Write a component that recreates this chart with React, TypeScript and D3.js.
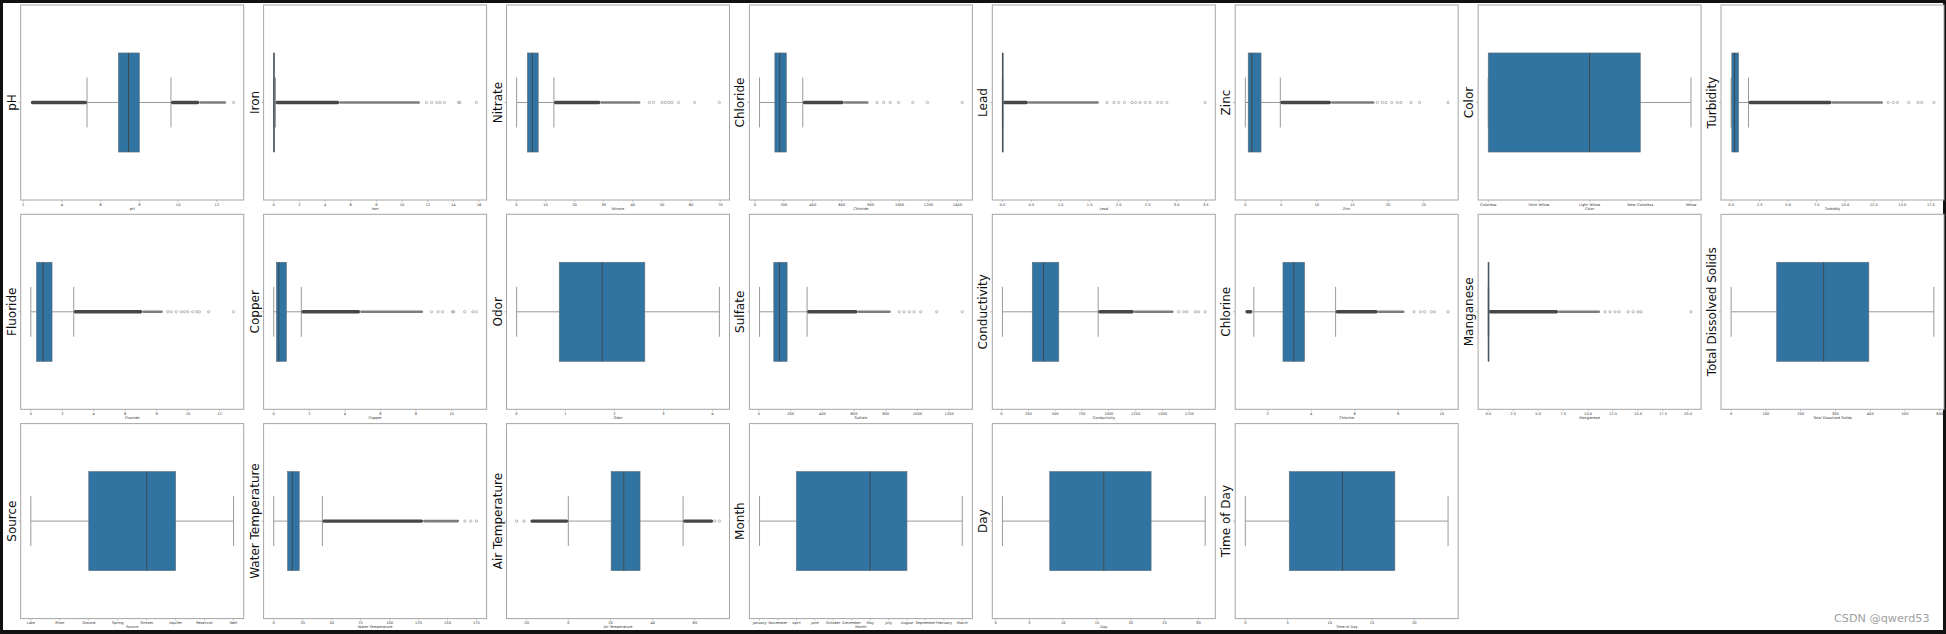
import React from 'react';
import * as d3 from 'd3';

// one horizontal box plot per column of the water quality table
const variables = [
  'pH', 'Iron', 'Nitrate', 'Chloride', 'Lead', 'Zinc', 'Color', 'Turbidity',
  'Fluoride', 'Copper', 'Odor', 'Sulfate', 'Conductivity', 'Chlorine', 'Manganese', 'Total Dissolved Solids',
  'Source', 'Water Temperature', 'Air Temperature', 'Month', 'Day', 'Time of Day',
];

const lowerWhisker = [5.3, 0, 0.1, 32, 0, 0, 0, 0, 0, 0, 0.006, 4, 9, 1.36, 0, 0, 0, 0, 0, 0, 1, 0];
const firstQuartile = [6.92, 0, 3.8, 138, 0, 0.4, 0, 0.06, 0.36, 0.15, 0.875, 94, 287, 2.7, 0, 131, 2, 12, 20.3, 2, 8, 5.2];
const medianValues = [7.44, 0.01, 5.5, 172, 0, 0.9, 2, 0.3, 0.78, 0.28, 1.75, 130, 392, 3.2, 0.002, 266, 4, 16, 26.3, 6, 16, 11.5];
const thirdQuartile = [8.0, 0.06, 7.5, 217, 0.003, 2.2, 3, 0.65, 1.35, 0.71, 2.62, 178, 534, 3.69, 0.02, 396, 5, 22, 34.0, 8, 23, 17.7];
const upperWhisker = [9.63, 0.14, 12.9, 331, 0.007, 4.9, 4, 1.52, 2.73, 1.55, 4.14, 304, 901, 5.12, 0.05, 583, 7, 42, 54.4, 11, 31, 24];

// stretches where the outlier markers pile up into a solid band
const lowFliers: ([number, number] | null)[] = [
  [2.4, 5.3], null, null, null, null, null, null, null,
  null, null, null, null, null, [0.97, 1.3], null, null,
  null, null, [-18, 0], null, null, null,
];
const denseFliers: ([number, number] | null)[] = [
  [9.63, 11.1], [0.14, 5.1], [12.9, 28.9], [331, 614], [0.007, 0.44], [4.9, 12.0], null, [1.52, 8.8],
  [2.73, 7.1], [1.55, 4.86], null, [304, 623], [901, 1234], [5.12, 7.06], [0.05, 7.0], null,
  null, [42, 129], [54.4, 68.7], null, null, null,
];
const faintFliers: ([number, number] | null)[] = [
  [11.1, 12.48], [5.1, 11.4], [28.9, 42.6], [614, 786], [0.44, 1.66], [12.0, 18.1], null, [8.8, 13.3],
  [7.1, 8.4], [4.86, 8.4], null, [623, 832], [1234, 1604], [7.06, 8.29], [7.0, 11.2], null,
  null, [129, 160], null, null, null, null,
];
const sparseFliers: number[][] = [
  [12.86],
  [11.9, 12.3, 12.7, 12.95, 13.3, 14.4, 14.5, 15.8],
  [45.7, 47.1, 50.0, 51.1, 52.3, 53.4, 55.7, 61.2, 69.7],
  [844, 890, 936, 993, 1092, 1193, 1434],
  [1.8, 1.92, 2.0, 2.1, 2.23, 2.29, 2.37, 2.46, 2.54, 2.67, 2.74, 2.83, 3.49],
  [18.5, 19.2, 19.7, 20.5, 21.3, 21.8, 23.2, 24.4, 28.4],
  [],
  [13.76, 14.2, 14.57, 15.56, 16.38, 16.7, 17.76],
  [8.72, 8.93, 9.25, 9.57, 9.78, 9.99, 10.3, 10.56, 10.73, 11.32, 12.9],
  [8.87, 9.24, 9.49, 10.05, 10.12, 10.74, 11.2, 11.4],
  [],
  [885, 916, 948, 979, 1021, 1122, 1283],
  [1651, 1697, 1728, 1806, 1836, 1898],
  [8.72, 9.03, 9.21, 9.52, 9.67, 10.29],
  [11.7, 12.2, 12.7, 13.1, 14.0, 14.5, 15.0, 15.3, 20.3],
  [],
  [],
  [165, 170, 175],
  [-24.5, -21, 69.5, 71.6],
  [],
  [],
  [],
];

const tickValues: number[][] = [
  [2, 4, 6, 8, 10, 12],
  [0, 2, 4, 6, 8, 10, 12, 14, 16],
  [0, 10, 20, 30, 40, 50, 60, 70],
  [0, 200, 400, 600, 800, 1000, 1200, 1400],
  [0, 0.5, 1, 1.5, 2, 2.5, 3, 3.5],
  [0, 5, 10, 15, 20, 25],
  [0, 1, 2, 3, 4],
  [0, 2.5, 5, 7.5, 10, 12.5, 15, 17.5],
  [0, 2, 4, 6, 8, 10, 12],
  [0, 2, 4, 6, 8, 10],
  [0, 1, 2, 3, 4],
  [0, 200, 400, 600, 800, 1000, 1200],
  [0, 250, 500, 750, 1000, 1250, 1500, 1750],
  [2, 4, 6, 8, 10],
  [0, 2.5, 5, 7.5, 10, 12.5, 15, 17.5, 20],
  [0, 100, 200, 300, 400, 500, 600],
  [0, 1, 2, 3, 4, 5, 6, 7],
  [0, 25, 50, 75, 100, 125, 150, 175],
  [-20, 0, 20, 40, 60],
  [0, 1, 2, 3, 4, 5, 6, 7, 8, 9, 10, 11],
  [0, 5, 10, 15, 20, 25, 30],
  [0, 5, 10, 15, 20],
];
const oneDecimal = ['Lead', 'Turbidity', 'Manganese'];

const colorLabels = ['Colorless', 'Faint Yellow', 'Light Yellow', 'Near Colorless', 'Yellow'];
const sourceLabels = ['Lake', 'River', 'Ground', 'Spring', 'Stream', 'Aquifer', 'Reservoir', 'Well'];
const monthLabels = ['January', 'November', 'April', 'June', 'October', 'December', 'May', 'July', 'August', 'September', 'February', 'March'];
const categoryLabels: Record<string, string[]> = { Color: colorLabels, Source: sourceLabels, Month: monthLabels };

const W = 1946;
const H = 634;
const COLS = 8;
const colStep = 242.9;
const rowStep = 209.3;
const axW = 223;
const axH = 195;
const BOX = '#3274a1';
const LINE = '#3f3f3f';
const SPINE = '#a6a6a6';

function Panel({ i }: { i: number }) {
  const name = variables[i];
  const left = 20.7 + (i % COLS) * colStep;
  const top = 5 + Math.floor(i / COLS) * rowStep;
  const bottom = top + axH;
  const cy = top + axH / 2;
  const boxHalf = axH * 0.254;
  const capHalf = axH * 0.128;

  const values = [lowerWhisker[i], upperWhisker[i], ...sparseFliers[i]];
  if (lowFliers[i]) values.push(...(lowFliers[i] as number[]));
  if (denseFliers[i]) values.push(...(denseFliers[i] as number[]));
  if (faintFliers[i]) values.push(...(faintFliers[i] as number[]));
  const [lo, hi] = d3.extent(values) as [number, number];
  const pad = (hi - lo) * 0.05;
  const x = d3.scaleLinear().domain([lo - pad, hi + pad]).range([left, left + axW]);

  const labels = categoryLabels[name];
  const fmt = (v: number) => labels ? labels[v] : oneDecimal.includes(name) ? v.toFixed(1) : String(v);

  const band = (r: [number, number] | null, fill: string, h: number, key: string) => r && (
    <rect key={key} x={x(r[0])} y={cy - h / 2} width={Math.max(0.5, x(r[1]) - x(r[0]))} height={h} rx={h / 2} fill={fill} />
  );

  return (
    <g>
      <rect x={left} y={top} width={axW} height={axH} fill="#fff" stroke={SPINE} strokeWidth={1} />
      <line x1={left - 2} x2={left} y1={cy} y2={cy} stroke={SPINE} strokeWidth={0.8} />
      {/* whiskers */}
      <line x1={x(lowerWhisker[i])} x2={x(firstQuartile[i])} y1={cy} y2={cy} stroke="#9a9a9a" strokeWidth={1} />
      <line x1={x(thirdQuartile[i])} x2={x(upperWhisker[i])} y1={cy} y2={cy} stroke="#9a9a9a" strokeWidth={1} />
      <line x1={x(lowerWhisker[i])} x2={x(lowerWhisker[i])} y1={cy - capHalf} y2={cy + capHalf} stroke="#9a9a9a" strokeWidth={1} />
      <line x1={x(upperWhisker[i])} x2={x(upperWhisker[i])} y1={cy - capHalf} y2={cy + capHalf} stroke="#9a9a9a" strokeWidth={1} />
      {/* outliers */}
      {band(faintFliers[i], '#7d7d7d', 2.6, 'f')}
      {band(lowFliers[i], '#474747', 3.4, 'l')}
      {band(denseFliers[i], '#474747', 3.4, 'd')}
      {sparseFliers[i].map((v, k) => (
        <circle key={k} cx={x(v)} cy={cy} r={1.2} fill="none" stroke="#7a7a7a" strokeWidth={0.5} />
      ))}
      {/* box */}
      <rect x={x(firstQuartile[i])} y={cy - boxHalf} width={Math.max(0.8, x(thirdQuartile[i]) - x(firstQuartile[i]))} height={boxHalf * 2}
        fill={BOX} stroke="#5d6b78" strokeWidth={0.6} />
      <line x1={x(medianValues[i])} x2={x(medianValues[i])} y1={cy - boxHalf} y2={cy + boxHalf} stroke={LINE} strokeWidth={0.8} />
      {/* x axis */}
      {tickValues[i].map(t => (
        <g key={t} transform={`translate(${x(t)},${bottom})`}>
          <line y2={2} stroke={SPINE} strokeWidth={0.6} />
          <text y={5.6} textAnchor="middle" fontSize={3.6} fill="#333">{fmt(t)}</text>
        </g>
      ))}
      <text x={left + axW / 2} y={bottom + 9.8} textAnchor="middle" fontSize={3.6} fill="#333">{name}</text>
      <text transform={`translate(${left - 5},${cy}) rotate(-90)`} textAnchor="middle" fontSize={12} fill="#111">{name}</text>
    </g>
  );
}

export default function App() {
  return (
    <svg width={W} height={H} style={{ position: 'absolute', left: 0, top: 0 }} fontFamily="DejaVu Sans, sans-serif">
      <rect width={W} height={H} fill="#111" />
      <rect x={3} y={3} width={W - 6} height={H - 7} fill="#fff" />
      {variables.map((_, i) => <Panel key={i} i={i} />)}
      <text x={1834} y={622} fontSize={11.2} fill="#a0a0a0">CSDN @qwerd53</text>
    </svg>
  );
}
